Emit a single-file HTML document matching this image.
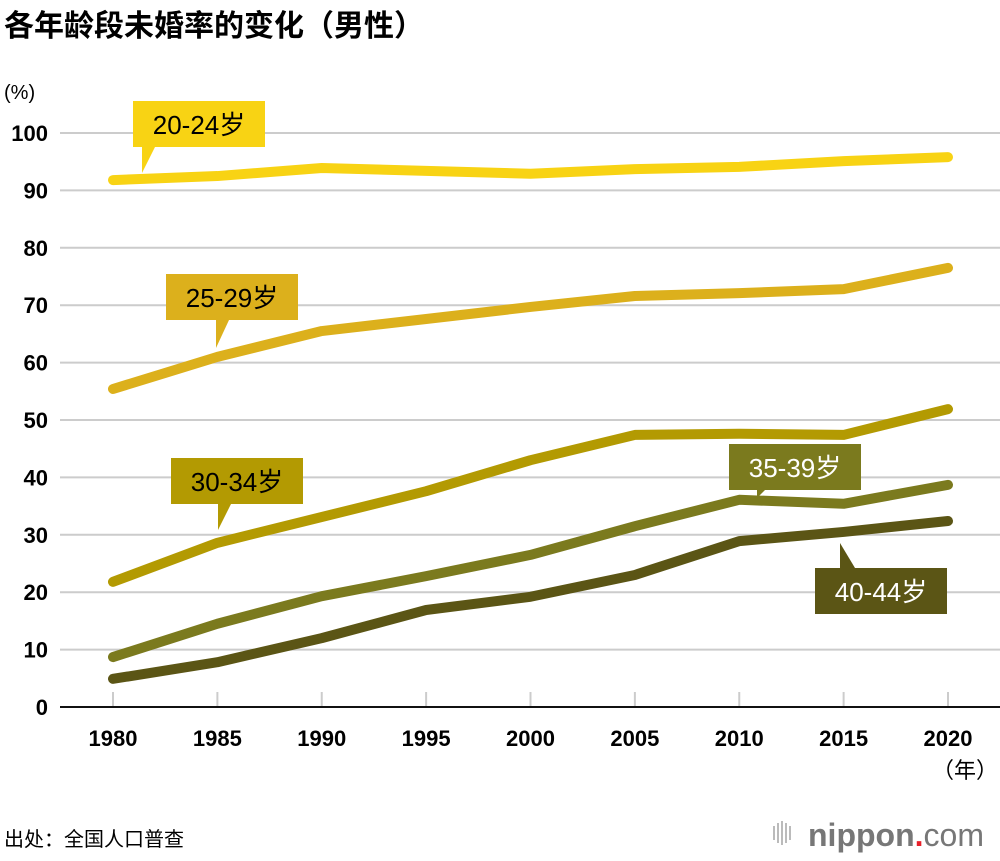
<!DOCTYPE html>
<html><head><meta charset="utf-8"><style>
body{margin:0;background:#fff;width:1000px;height:856px;overflow:hidden;font-family:"Liberation Sans","Noto Sans CJK SC",sans-serif}
</style></head><body>
<svg width="1000" height="856" xmlns="http://www.w3.org/2000/svg">
<text x="4" y="36" font-size="30" font-weight="bold" font-family="Liberation Sans,Noto Sans CJK SC,sans-serif">各年龄段未婚率的变化（男性）</text>
<text x="4" y="99" font-size="20" font-family="Liberation Sans,sans-serif">(%)</text>
<g id="grid"></g><g id="xt"></g><g id="lines"></g><g id="labels"></g>
<text x="965" y="778" font-size="22" text-anchor="middle" font-family="Liberation Sans,Noto Sans CJK SC,sans-serif">（年）</text>
<text x="4" y="846" font-size="20" font-family="Liberation Sans,Noto Sans CJK SC,sans-serif">出处：全国人口普查</text>
<g>
<g fill="#bbb"><rect x="773" y="826" width="2" height="14"/><rect x="777" y="823" width="2" height="20"/><rect x="781" y="821" width="2" height="24"/><rect x="785" y="823" width="2" height="20"/><rect x="789" y="826" width="2" height="14"/></g>
<text x="808" y="846" font-size="32" fill="#777" font-family="Liberation Sans,sans-serif"><tspan font-weight="bold">nippon</tspan><tspan fill="#e8202a" font-weight="bold">.</tspan><tspan>com</tspan></text>
</g>
</svg>
<script>
const years=[1980,1985,1990,1995,2000,2005,2010,2015,2020];
const yTicks=[0,10,20,30,40,50,60,70,80,90,100];
const s2024=[91.8,92.5,93.9,93.4,92.9,93.7,94.1,95.1,95.8];
const s2529=[55.4,61.0,65.5,67.6,69.7,71.6,72.1,72.8,76.5];
const s3034=[21.8,28.6,33.1,37.6,43.0,47.4,47.6,47.4,51.9];
const s3539=[8.7,14.5,19.3,22.8,26.5,31.5,36.1,35.4,38.7];
const s4044=[4.9,7.8,12.0,16.9,19.2,23.0,28.9,30.5,32.4];
const NS="http://www.w3.org/2000/svg";
const X=y=>113+(y-1980)*(948-113)/40;
const Y=v=>707-v*5.74;
function mk(t,a,p){const e=document.createElementNS(NS,t);for(const k in a)e.setAttribute(k,a[k]);p.appendChild(e);return e;}
const grid=document.getElementById('grid');
yTicks.forEach(v=>{
  const l=mk('line',{x1:60,x2:1000,y1:Y(v),y2:Y(v),stroke:v===0?'#111':'#ccc','stroke-width':2},grid);
  
  
  const t=mk('text',{x:48,y:Y(v)+8,'font-size':22,'text-anchor':'end','font-weight':'bold'},grid);
  t.textContent=v;
  
  
});
const xt=document.getElementById('xt');
years.forEach(y=>{
  const l=mk('line',{x1:X(y),x2:X(y),y1:692,y2:706,stroke:'#ccc','stroke-width':2},xt);
  
  
  const t=mk('text',{x:X(y),y:746,'font-size':22,'text-anchor':'middle','font-weight':'bold'},xt);
  t.textContent=y;
  
  
});
const series=[[s2024,'#f8d314'],[s2529,'#dcb01c'],[s3034,'#b39a02'],[s3539,'#7b7a1e'],[s4044,'#5b5515']];
const lg=document.getElementById('lines');
series.forEach(([d,c],i)=>{
  const p=mk('polyline',{points:d.map((v,j)=>X(years[j])+','+Y(v)).join(' '),fill:'none',stroke:c,'stroke-width':10,'stroke-linecap':'round','stroke-linejoin':'round'},lg);
  
  
});
const lbl=[
 ['20-24岁','#f8d314','#000',133,101,'M142 147 L155 147 L142 173 Z'],
 ['25-29岁','#dcb01c','#000',166,274,'M216 320 L229 320 L216 348 Z'],
 ['30-34岁','#b39a02','#000',171,458,'M218 504 L231 504 L218 530 Z'],
 ['35-39岁','#7b7a1e','#fff',729,444,'M757 490 L765 490 L757 498 Z'],
 ['40-44岁','#5b5515','#fff',815,568,'M840 568 L855 568 L840 543 Z']];
const lb=document.getElementById('labels');
lbl.forEach(([t,c,tc,x,y,path])=>{
  const g=mk('g',{},lb);
  
  
  mk('rect',{x:x,y:y,width:132,height:46,fill:c},g);
  mk('path',{d:path,fill:c},g);
  const tx=mk('text',{x:x+66,y:y+33,'font-size':26,'text-anchor':'middle',fill:tc,'font-family':'Liberation Sans,Noto Sans CJK SC,sans-serif'},g);
  tx.textContent=t;
});
</script>
</body></html>
